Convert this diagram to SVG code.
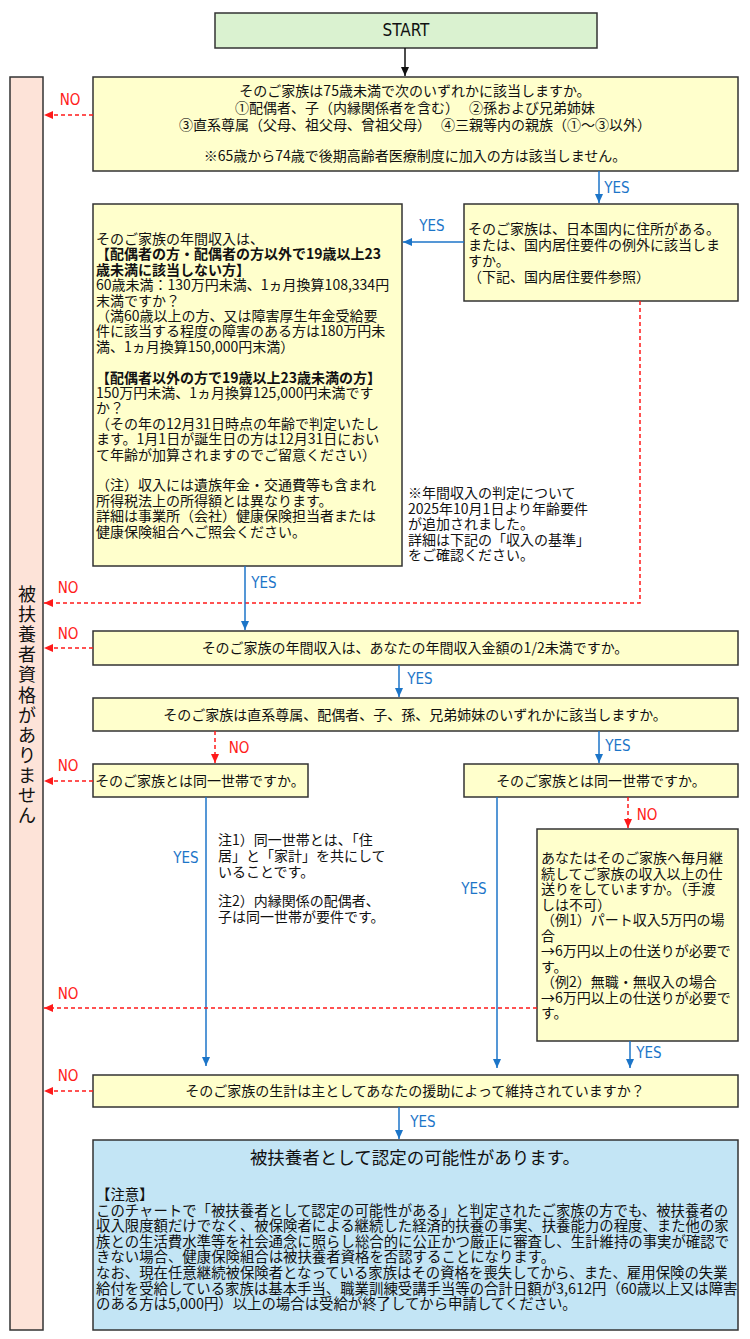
<svg xmlns="http://www.w3.org/2000/svg" width="750" height="1339" viewBox="0 0 750 1339">
<style>
.box{fill:#ffffcc;stroke:#333;stroke-width:1.5}
.t{font-family:"Noto Sans CJK JP","Noto Sans",sans-serif;font-size:14px;fill:#111}
.c{text-anchor:middle}
.b{font-weight:bold}
.lab{font-family:"Liberation Sans Narrow","DejaVu Sans Condensed","Noto Sans",sans-serif;font-size:15px;text-anchor:middle}
.yes{fill:#1c75c8}
.no{fill:#ff1a1a}
.ly{stroke:#1c75c8;stroke-width:1.5;fill:none}
.ln{stroke:#ff1a1a;stroke-width:1.5;fill:none;stroke-dasharray:4 3}
</style>
<defs>
<marker id="ab" markerUnits="userSpaceOnUse" markerWidth="10" markerHeight="10" refX="9" refY="5" orient="auto"><path d="M0,1 L9,5 L0,9 Z" fill="#1c75c8"/></marker>
<marker id="ar" markerUnits="userSpaceOnUse" markerWidth="10" markerHeight="10" refX="9" refY="5" orient="auto"><path d="M0,1 L9,5 L0,9 Z" fill="#ff1a1a"/></marker>
<marker id="ak" markerUnits="userSpaceOnUse" markerWidth="10" markerHeight="10" refX="9" refY="5" orient="auto"><path d="M0,1 L9,5 L0,9 Z" fill="#111"/></marker>
</defs>

<g id="start">
<rect x="215" y="13" width="382" height="35" fill="#daf2d0" stroke="#333" stroke-width="1.5"/>
<text x="406" y="36" class="lab" style="font-size:17px;fill:#111">START</text>
</g>

<g id="not-eligible">
<rect x="10" y="77" width="33" height="1253" fill="#fde3d8" stroke="#333" stroke-width="1.5"/>
<text class="t c" style="font-size:18px" x="27" y="601">被<tspan x="27" dy="20.1">扶</tspan><tspan x="27" dy="20.1">養</tspan><tspan x="27" dy="20.1">者</tspan><tspan x="27" dy="20.1">資</tspan><tspan x="27" dy="20.1">格</tspan><tspan x="27" dy="20.1">が</tspan><tspan x="27" dy="20.1">あ</tspan><tspan x="27" dy="20.1">り</tspan><tspan x="27" dy="20.1">ま</tspan><tspan x="27" dy="20.1">せ</tspan><tspan x="27" dy="20.1">ん</tspan></text>
</g>

<g id="q1">
<rect class="box" x="93" y="77" width="645" height="94"/>
<text class="t c" x="415" y="96">そのご家族は75歳未満で次のいずれかに該当しますか。</text>
<text class="t c" x="415" y="113">①配偶者、子（内縁関係者を含む）　 ②孫および兄弟姉妹</text>
<text class="t c" x="415" y="130">③直系尊属（父母、祖父母、曾祖父母）　 ④三親等内の親族（①～③以外）</text>
<text class="t c" x="415" y="161">※65歳から74歳で後期高齢者医療制度に加入の方は該当しません。</text>
</g>

<g id="q2">
<rect class="box" x="464" y="204" width="274" height="97"/>
<text class="t" x="468" y="234">そのご家族は、日本国内に住所がある。<tspan x="468" dy="16">または、国内居住要件の例外に該当しま</tspan><tspan x="468" dy="16">すか。</tspan><tspan x="468" dy="16">（下記、国内居住要件参照）</tspan></text>
</g>

<g id="q-income">
<rect class="box" x="93" y="204" width="309" height="362"/>
<text class="t" x="96" y="244">そのご家族の年間収入は、<tspan x="96" dy="15.4" class="b">【配偶者の方・配偶者の方以外で19歳以上23</tspan><tspan x="96" dy="15.4" class="b">歳未満に該当しない方】</tspan><tspan x="96" dy="15.4">60歳未満：130万円未満、1ヵ月換算108,334円</tspan><tspan x="96" dy="15.4">末満ですか？</tspan><tspan x="96" dy="15.4">（満60歳以上の方、又は障害厚生年金受給要</tspan><tspan x="96" dy="15.4">件に該当する程度の障害のある方は180万円未</tspan><tspan x="96" dy="15.4">満、1ヵ月換算150,000円末満）</tspan><tspan x="96" dy="30.8" class="b">【配偶者以外の方で19歳以上23歳未満の方】</tspan><tspan x="96" dy="15.4">150万円未満、1ヵ月換算125,000円未満です</tspan><tspan x="96" dy="15.4">か？</tspan><tspan x="96" dy="15.4">（その年の12月31日時点の年齢で判定いたし</tspan><tspan x="96" dy="15.4">ます。1月1日が誕生日の方は12月31日におい</tspan><tspan x="96" dy="15.4">て年齢が加算されますのでご留意ください）</tspan><tspan x="96" dy="30.8">（注）収入には遺族年金・交通費等も含まれ</tspan><tspan x="96" dy="15.4">所得税法上の所得額とは異なります。</tspan><tspan x="96" dy="15.4">詳細は事業所（会社）健康保険担当者または</tspan><tspan x="96" dy="15.4">健康保険組合へご照会ください。</tspan></text>
</g>

<g id="note-income">
<text class="t" x="408" y="498">※年間収入の判定について<tspan x="408" dy="15.5">2025年10月1日より年齢要件</tspan><tspan x="408" dy="15.5">が追加されました。</tspan><tspan x="408" dy="15.5">詳細は下記の「収入の基準」</tspan><tspan x="408" dy="15.5">をご確認ください。</tspan></text>
</g>

<g id="q3">
<rect class="box" x="93" y="631" width="645" height="34"/>
<text class="t c" x="415" y="653">そのご家族の年間収入は、あなたの年間収入金額の1/2未満ですか。</text>
</g>

<g id="q4">
<rect class="box" x="93" y="698" width="645" height="33"/>
<text class="t c" x="415" y="720">そのご家族は直系尊属、配偶者、子、孫、兄弟姉妹のいずれかに該当しますか。</text>
</g>

<g id="q5">
<rect class="box" x="93" y="764" width="215" height="33"/>
<text class="t c" x="200" y="786">そのご家族とは同一世帯ですか。</text>
</g>

<g id="q6">
<rect class="box" x="464" y="764" width="274" height="33"/>
<text class="t c" x="601" y="786">そのご家族とは同一世帯ですか。</text>
</g>

<g id="note-household">
<text class="t" x="218" y="845">注1）同一世帯とは、「住<tspan x="218" dy="15.8">居」と「家計」を共にして</tspan><tspan x="218" dy="15.8">いることです。</tspan><tspan x="218" dy="29.5">注2）内縁関係の配偶者、</tspan><tspan x="218" dy="15.8">子は同一世帯が要件です。</tspan></text>
</g>

<g id="q7">
<rect class="box" x="537" y="829" width="201" height="212"/>
<text class="t" x="541" y="863">あなたはそのご家族へ毎月継<tspan x="541" dy="15.5">続してご家族の収入以上の仕</tspan><tspan x="541" dy="15.5">送りをしていますか。（手渡</tspan><tspan x="541" dy="15.5">しは不可）</tspan><tspan x="541" dy="15.5">（例1）パート収入5万円の場</tspan><tspan x="541" dy="15.5">合</tspan><tspan x="541" dy="15.5">→6万円以上の仕送りが必要で</tspan><tspan x="541" dy="15.5">す。</tspan><tspan x="541" dy="15.5">（例2）無職・無収入の場合</tspan><tspan x="541" dy="15.5">→6万円以上の仕送りが必要で</tspan><tspan x="541" dy="15.5">す。</tspan></text>
</g>

<g id="q8">
<rect class="box" x="93" y="1075" width="645" height="32"/>
<text class="t c" x="415" y="1096">そのご家族の生計は主としてあなたの援助によって維持されていますか？</text>
</g>

<g id="result">
<rect x="93" y="1140" width="645" height="190" fill="#c3e5f5" stroke="#333" stroke-width="1.5"/>
<text class="t c" style="font-size:17.5px" x="415" y="1164">被扶養者として認定の可能性があります。</text>
<text class="t" style="font-size:14.4px" x="96" y="1200">【注意】<tspan x="96" dy="15.6">このチャートで「被扶養者として認定の可能性がある」と判定されたご家族の方でも、被扶養者の</tspan><tspan x="96" dy="15.6">収入限度額だけでなく、被保険者による継続した経済的扶養の事実、扶養能力の程度、また他の家</tspan><tspan x="96" dy="15.6">族との生活費水準等を社会通念に照らし総合的に公正かつ厳正に審査し、生計維持の事実が確認で</tspan><tspan x="96" dy="15.6">きない場合、健康保険組合は被扶養者資格を否認することになります。</tspan><tspan x="96" dy="15.6">なお、現在任意継続被保険者となっている家族はその資格を喪失してから、また、雇用保険の失業</tspan><tspan x="96" dy="15.6">給付を受給している家族は基本手当、職業訓練受講手当等の合計日額が3,612円（60歳以上又は障害</tspan><tspan x="96" dy="15.6">のある方は5,000円）以上の場合は受給が終了してから申請してください。</tspan></text>
</g>

<g id="connectors">
<line x1="405" y1="48" x2="405" y2="76" stroke="#111" stroke-width="1.5" marker-end="url(#ak)"/>
<line class="ln" x1="93" y1="115" x2="44" y2="115" marker-end="url(#ar)"/>
<line class="ly" x1="599" y1="171" x2="599" y2="203" marker-end="url(#ab)"/>
<line class="ly" x1="464" y1="242" x2="403" y2="242" marker-end="url(#ab)"/>
<polyline class="ln" points="640,301 640,603 44,603" marker-end="url(#ar)"/>
<line class="ly" x1="245" y1="566" x2="245" y2="630" marker-end="url(#ab)"/>
<line class="ln" x1="93" y1="648" x2="44" y2="648" marker-end="url(#ar)"/>
<line class="ly" x1="399" y1="665" x2="399" y2="697" marker-end="url(#ab)"/>
<line class="ln" x1="215" y1="731" x2="215" y2="763" marker-end="url(#ar)"/>
<line class="ly" x1="599" y1="731" x2="599" y2="763" marker-end="url(#ab)"/>
<line class="ln" x1="93" y1="781" x2="44" y2="781" marker-end="url(#ar)"/>
<line class="ly" x1="206" y1="797" x2="206" y2="1066" marker-end="url(#ab)"/>
<line class="ly" x1="497" y1="797" x2="497" y2="1068" marker-end="url(#ab)"/>
<line class="ln" x1="628" y1="797" x2="628" y2="828" marker-end="url(#ar)"/>
<line class="ln" x1="537" y1="1008" x2="44" y2="1008" marker-end="url(#ar)"/>
<line class="ly" x1="630" y1="1041" x2="630" y2="1068" marker-end="url(#ab)"/>
<line class="ln" x1="93" y1="1091" x2="44" y2="1091" marker-end="url(#ar)"/>
<line class="ly" x1="399" y1="1107" x2="399" y2="1139" marker-end="url(#ab)"/>
<text class="lab no" x="70" y="105">NO</text>
<text class="lab yes" x="617" y="193">YES</text>
<text class="lab yes" x="432" y="231">YES</text>
<text class="lab no" x="68" y="593">NO</text>
<text class="lab yes" x="264" y="588">YES</text>
<text class="lab no" x="68" y="639">NO</text>
<text class="lab yes" x="420" y="684">YES</text>
<text class="lab no" x="239" y="753">NO</text>
<text class="lab yes" x="618" y="751">YES</text>
<text class="lab no" x="68" y="771">NO</text>
<text class="lab yes" x="186" y="863">YES</text>
<text class="lab yes" x="474" y="894">YES</text>
<text class="lab no" x="647" y="820">NO</text>
<text class="lab no" x="68" y="999">NO</text>
<text class="lab yes" x="649" y="1058">YES</text>
<text class="lab no" x="68" y="1081">NO</text>
<text class="lab yes" x="423" y="1127">YES</text>
</g>
</svg>
